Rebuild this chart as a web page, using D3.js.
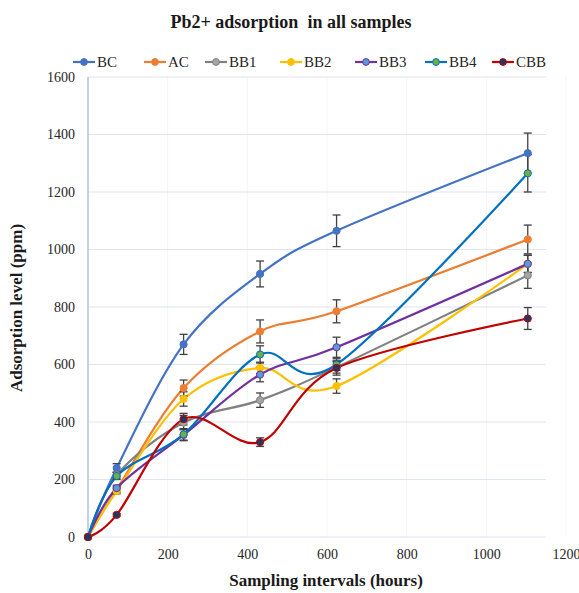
<!DOCTYPE html>
<html>
<head>
<meta charset="utf-8">
<script src="https://cdn.jsdelivr.net/npm/d3@7"></script>
<style>
  body { margin: 0; background: #fff; }
  text { font-family: "Liberation Serif", "Times New Roman", serif; }
</style>
</head>
<body>
<script>
// Sampling times (hours)
var hours = [0, 72, 240, 432, 624, 1104];

// Series names and adsorption values (ppm)
var seriesNames = ["BC", "AC", "BB1", "BB2", "BB3", "BB4", "CBB"];
var bcValues  = [0, 240, 670, 915, 1065, 1335];
var acValues  = [0, 165, 518, 715, 785, 1035];
var bb1Values = [0, 215, 398, 476, 590, 910];
var bb2Values = [0, 160, 480, 588, 525, 950];
var bb3Values = [0, 170, 355, 565, 660, 950];
var bb4Values = [0, 212, 357, 635, 600, 1265];
var cbbValues = [0, 77, 410, 330, 588, 760];

// Error bar half-widths (ppm)
var bcErr  = [0, 15, 35, 45, 55, 70];
var acErr  = [0, 10, 28, 40, 40, 50];
var bb1Err = [0, 10, 25, 25, 20, 45];
var bb2Err = [0, 10, 25, 20, 25, 30];
var bb3Err = [0, 10, 20, 25, 35, 30];
var bb4Err = [0, 12, 20, 30, 20, 65];
var cbbErr = [0, 5, 20, 15, 25, 38];

var xTicks = [0, 200, 400, 600, 800, 1000, 1200];
var yTicks = [0, 200, 400, 600, 800, 1000, 1200, 1400, 1600];

var lineColors   = ["#4472C4", "#ED7D31", "#808080", "#FFC000", "#7030A0", "#0070C0", "#C00000"];
var markerColors = ["#4472C4", "#ED7D31", "#A5A5A5", "#FFC000", "#5B9BD5", "#70AD47", "#1F3864"];

var allValues = [bcValues, acValues, bb1Values, bb2Values, bb3Values, bb4Values, cbbValues];
var allErrors = [bcErr, acErr, bb1Err, bb2Err, bb3Err, bb4Err, cbbErr];

var series = seriesNames.map(function(name, i) {
  return {
    name: name,
    line: lineColors[i],
    marker: markerColors[i],
    points: hours.map(function(h, j) {
      return { x: h, y: allValues[i][j], err: allErrors[i][j] };
    })
  };
});

var svgWidth = 579;
var svgHeight = 593;
var margin = { top: 77, right: 13, bottom: 56, left: 88 };
var chartHeight = svgHeight - margin.top - margin.bottom;

var svg = d3.select("body")
  .append("svg")
  .attr("width", svgWidth)
  .attr("height", svgHeight);

var chartGroup = svg.append("g")
  .attr("transform", `translate(${margin.left}, ${margin.top})`);

var xScale = d3.scaleLinear().domain([0, 1200]).range([0, 478]);
var yScale = d3.scaleLinear().domain([0, 1600]).range([chartHeight, 0]);

// Grid
chartGroup.selectAll(".vgrid")
  .data(xTicks.slice(1))
  .enter()
  .append("line")
  .attr("x1", d => xScale(d))
  .attr("x2", d => xScale(d))
  .attr("y1", 0)
  .attr("y2", chartHeight)
  .attr("stroke", "#f3f5f9")
  .attr("stroke-width", 1);

chartGroup.selectAll(".hgrid")
  .data(yTicks)
  .enter()
  .append("line")
  .attr("x1", 0)
  .attr("x2", xScale(1200) - 20)
  .attr("y1", d => yScale(d))
  .attr("y2", d => yScale(d))
  .attr("stroke", "#dfe4ee")
  .attr("stroke-width", 1.2);

// Y axis line
chartGroup.append("line")
  .attr("x1", 0).attr("x2", 0)
  .attr("y1", 0).attr("y2", chartHeight)
  .attr("stroke", "#b4c0de")
  .attr("stroke-width", 1.5);

// Tick labels
var xAxis = d3.axisBottom(xScale).tickValues(xTicks).tickFormat(d3.format("d")).tickSize(0).tickPadding(12);
chartGroup.append("g")
  .attr("transform", `translate(0, ${chartHeight})`)
  .call(xAxis)
  .call(g => g.select(".domain").remove())
  .selectAll("text")
  .style("font-family", "'Liberation Serif', serif")
  .style("font-size", "14px")
  .attr("fill", "#262626");

var yAxis = d3.axisLeft(yScale).tickValues(yTicks).tickFormat(d3.format("d")).tickSize(0).tickPadding(13);
chartGroup.append("g")
  .call(yAxis)
  .call(g => g.select(".domain").remove())
  .selectAll("text")
  .style("font-family", "'Liberation Serif', serif")
  .style("font-size", "14px")
  .attr("fill", "#262626");

// Lines
var line = d3.line()
  .x(d => xScale(d.x))
  .y(d => yScale(d.y))
  .curve(d3.curveCatmullRom.alpha(0));

chartGroup.selectAll(".series-line")
  .data(series)
  .enter()
  .append("path")
  .attr("class", "series-line")
  .attr("d", d => line(d.points))
  .attr("fill", "none")
  .attr("stroke", d => d.line)
  .attr("stroke-width", 2.2);

// Error bars
var errGroups = chartGroup.selectAll(".err")
  .data(series)
  .enter()
  .append("g")
  .attr("class", "err");

errGroups.each(function(s) {
  var g = d3.select(this);
  var pts = s.points.filter(p => p.err > 0);
  g.selectAll(".stem").data(pts).enter().append("line")
    .attr("x1", p => xScale(p.x)).attr("x2", p => xScale(p.x))
    .attr("y1", p => yScale(p.y - p.err)).attr("y2", p => yScale(p.y + p.err))
    .attr("stroke", "#404040").attr("stroke-width", 1.3);
  g.selectAll(".cap-top").data(pts).enter().append("line")
    .attr("x1", p => xScale(p.x) - 4).attr("x2", p => xScale(p.x) + 4)
    .attr("y1", p => yScale(p.y + p.err)).attr("y2", p => yScale(p.y + p.err))
    .attr("stroke", "#404040").attr("stroke-width", 1.3);
  g.selectAll(".cap-bot").data(pts).enter().append("line")
    .attr("x1", p => xScale(p.x) - 4).attr("x2", p => xScale(p.x) + 4)
    .attr("y1", p => yScale(p.y - p.err)).attr("y2", p => yScale(p.y - p.err))
    .attr("stroke", "#404040").attr("stroke-width", 1.3);
});

// Markers
chartGroup.selectAll(".markers")
  .data(series)
  .enter()
  .append("g")
  .each(function(s) {
    d3.select(this).selectAll("circle")
      .data(s.points)
      .enter()
      .append("circle")
      .attr("cx", p => xScale(p.x))
      .attr("cy", p => yScale(p.y))
      .attr("r", 3.6)
      .attr("fill", s.marker)
      .attr("stroke", s.line)
      .attr("stroke-width", 1);
  });

// Title
svg.append("text")
  .attr("x", 291)
  .attr("y", 28)
  .attr("text-anchor", "middle")
  .style("white-space", "pre")
  .attr("font-size", 18)
  .attr("font-weight", "bold")
  .attr("fill", "#1a1a1a")
  .text("Pb2+ adsorption  in all samples");

// Legend
var legendX = [73, 144, 205, 280, 355, 425, 492];
var legend = svg.selectAll(".legend")
  .data(series)
  .enter()
  .append("g")
  .attr("transform", (d, i) => `translate(${legendX[i]}, 62)`);

legend.append("line")
  .attr("x1", 0).attr("x2", 22)
  .attr("y1", 0).attr("y2", 0)
  .attr("stroke", d => d.line)
  .attr("stroke-width", 2.2);
legend.append("circle")
  .attr("cx", 11).attr("cy", 0).attr("r", 3.4)
  .attr("fill", d => d.marker)
  .attr("stroke", d => d.line)
  .attr("stroke-width", 1);
legend.append("text")
  .attr("x", 24)
  .attr("y", 5)
  .attr("font-size", 15)
  .attr("fill", "#262626")
  .text(d => d.name);

// Axis titles
svg.append("text")
  .attr("x", 326)
  .attr("y", 586)
  .attr("text-anchor", "middle")
  .attr("font-size", 17)
  .attr("font-weight", "bold")
  .attr("fill", "#1a1a1a")
  .text("Sampling intervals (hours)");

svg.append("text")
  .attr("transform", "translate(22, 308) rotate(-90)")
  .attr("text-anchor", "middle")
  .attr("font-size", 17)
  .attr("font-weight", "bold")
  .attr("fill", "#1a1a1a")
  .text("Adsorption level (ppm)");
</script>
</body>
</html>
